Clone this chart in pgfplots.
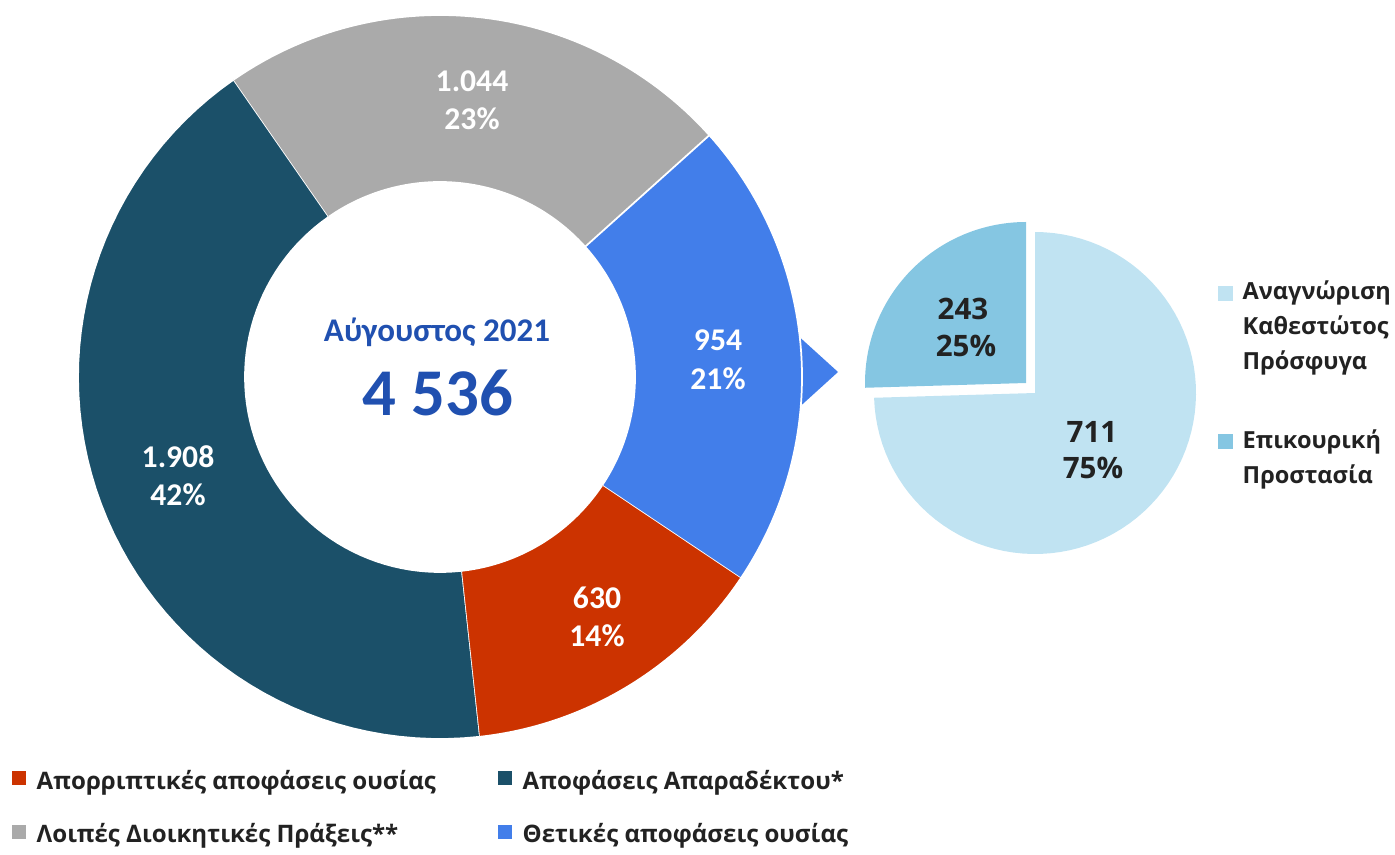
\documentclass[border=0pt]{standalone}
\usepackage{pgfplots}
\pgfplotsset{compat=1.18}
\usepackage{pgfplotstable}
\usepackage{fontspec}
\newfontfamily\carlito{Carlito}
\newfontfamily\opensans{Open Sans}
\definecolor{cblue}{HTML}{427EEA}
\definecolor{cred}{HTML}{CC3300}
\definecolor{cdark}{HTML}{1B5069}
\definecolor{cgray}{HTML}{AAAAAA}
\definecolor{clight}{HTML}{C0E3F2}
\definecolor{cmed}{HTML}{85C6E2}
\definecolor{ctitle}{HTML}{2050B0}
\definecolor{ctext}{HTML}{222222}

\pgfplotstableread{
name value
blue 954
red 630
dark 1908
gray 1044
}\donutdata
\pgfplotstableread{
name value
light 711
medium 243
}\piedata

\newcommand\sector[7]{% color, a1, a2, R, r, cx, cy
  \addplot[fill=#1, draw=white, line width=0.5pt, line join=round, domain=0:3, samples=181, variable=\t, forget plot]
   ({#6+rr(\t,#4,#5)*cos(aa(\t,#2,#3))},{#7+rr(\t,#4,#5)*sin(aa(\t,#2,#3))});%
}
\newcommand\pieslice[7]{% color, a1, a2, R, r, cx, cy
  \addplot[fill=#1, draw=none, domain=0:3, samples=241, variable=\t, forget plot]
   ({#6+rr(\t,#4,#5)*cos(aa(\t,#2,#3))},{#7+rr(\t,#4,#5)*sin(aa(\t,#2,#3))});%
}

\pgfplotstablegetelem{0}{value}\of\donutdata \let\vBlue\pgfplotsretval
\pgfplotstablegetelem{1}{value}\of\donutdata \let\vRed\pgfplotsretval
\pgfplotstablegetelem{2}{value}\of\donutdata \let\vDark\pgfplotsretval
\pgfplotstablegetelem{3}{value}\of\donutdata \let\vGray\pgfplotsretval
\pgfplotstablegetelem{0}{value}\of\piedata \let\vLight\pgfplotsretval
\pgfplotstablegetelem{1}{value}\of\piedata \let\vMed\pgfplotsretval
\pgfmathsetmacro\tot{\vBlue+\vRed+\vDark+\vGray}
\pgfmathsetmacro\aA{41.9}
\pgfmathsetmacro\aB{\aA-360*(\vBlue/\tot)}
\pgfmathsetmacro\aC{\aB-360*(\vRed/\tot)}
\pgfmathsetmacro\aD{\aC-360*(\vDark/\tot)}
\pgfmathsetmacro\aE{\aD-360*(\vGray/\tot)}
\pgfmathsetmacro\ptot{\vLight+\vMed}
\pgfmathsetmacro\pA{90}
\pgfmathsetmacro\pB{\pA+360*(\vMed/\ptot)}
\pgfmathsetmacro\pC{\pB+360*(\vLight/\ptot)}

\begin{document}
\begin{tikzpicture}
\begin{axis}[width=13.95cm, height=8.54cm, scale only axis,
  xmin=0, xmax=1395, ymin=0, ymax=854, hide axis, ticks=none, clip=false,
  declare function={
    rr(\s,\R,\r)=(\s<=1) ? \R : ((\s<=2) ? (\R-(\R-\r)*(\s-1)) : \r);
    aa(\s,\a,\b)=(\s<=1) ? (\a+(\b-\a)*\s) : ((\s<=2) ? \b : (\b+(\a-\b)*(\s-2)));
  }]
\coordinate (bbSW) at (axis cs:0,0);
\coordinate (bbNE) at (axis cs:1395,854);
% connector arrow
\addplot[fill=cblue, draw=none, forget plot] coordinates {(795,521) (838,482) (795,443)} -- cycle;
% donut
\sector{cblue}{\aA}{\aB}{362}{195}{440}{477}
\sector{cred}{\aB}{\aC}{362}{195}{440}{477}
\sector{cdark}{\aC}{\aD}{362}{195}{440}{477}
\sector{cgray}{\aD}{\aE}{362}{195}{440}{477}
% pie
\pieslice{clight}{\pB}{\pC}{161}{0}{1035}{461}
\pieslice{cmed}{\pA}{\pB}{161}{0}{1026}{471}
% donut labels
\begin{scope}[every node/.style={font=\carlito\bfseries\fontsize{9}{10.8}\selectfont, text=white, anchor=base}]
\node at (axis cs:718,503) {954};
\node at (axis cs:718,465) {21\%};
\node at (axis cs:597,246) {630};
\node at (axis cs:597,208) {14\%};
\node at (axis cs:178,387) {1.908};
\node at (axis cs:178,349) {42\%};
\node at (axis cs:472,762) {1.044};
\node at (axis cs:472,724) {23\%};
\end{scope}
% centre
\node[anchor=base, font=\carlito\bfseries\fontsize{9.4}{11}\selectfont, text=ctitle] at (axis cs:437,512) {Αύγουστος 2021};
\node[anchor=base, font=\carlito\bfseries\fontsize{19}{23}\selectfont, text=ctitle] at (axis cs:438,439) {4 536};
% pie labels
\begin{scope}[every node/.style={font=\opensans\bfseries\fontsize{8.4}{10}\selectfont, text=ctext, anchor=base}]
\node at (axis cs:963,534) {243};
\node at (axis cs:966,497) {25\%};
\node at (axis cs:1092,412) {711};
\node at (axis cs:1093,376) {75\%};
\end{scope}
% right legend
\begin{scope}[every node/.style={font=\opensans\bfseries\fontsize{6.7}{9}\selectfont, text=ctext, anchor=base west, inner sep=0pt}]
\node[fill=clight, minimum size=0.145cm, anchor=center] at (axis cs:1225.5,560.5) {};
\node at (axis cs:1242,554) {Αναγνώριση};
\node at (axis cs:1242,519) {Καθεστώτος};
\node at (axis cs:1242,484) {Πρόσφυγα};
\node[fill=cmed, minimum size=0.145cm, anchor=center] at (axis cs:1225.5,412.5) {};
\node at (axis cs:1242,406) {Επικουρική};
\node at (axis cs:1242,371) {Προστασία};
\end{scope}
% bottom legend
\begin{scope}[every node/.style={font=\opensans\bfseries\fontsize{6.85}{9}\selectfont, text=ctext, anchor=base west, inner sep=0pt}]
\node[fill=cred, minimum size=0.14cm, anchor=center] at (axis cs:19,76) {};
\node at (axis cs:36,65) {Απορριπτικές αποφάσεις ουσίας};
\node[fill=cgray, minimum size=0.14cm, anchor=center] at (axis cs:19,22) {};
\node at (axis cs:36,12) {Λοιπές Διοικητικές Πράξεις**};
\node[fill=cdark, minimum size=0.14cm, anchor=center] at (axis cs:504.5,76) {};
\node at (axis cs:522,65) {Αποφάσεις Απαραδέκτου*};
\node[fill=cblue, minimum size=0.14cm, anchor=center] at (axis cs:504.5,22) {};
\node at (axis cs:522,12) {Θετικές αποφάσεις ουσίας};
\end{scope}
\end{axis}
\pgfresetboundingbox
\path[use as bounding box] (bbSW) rectangle (bbNE);
\end{tikzpicture}
\end{document}
